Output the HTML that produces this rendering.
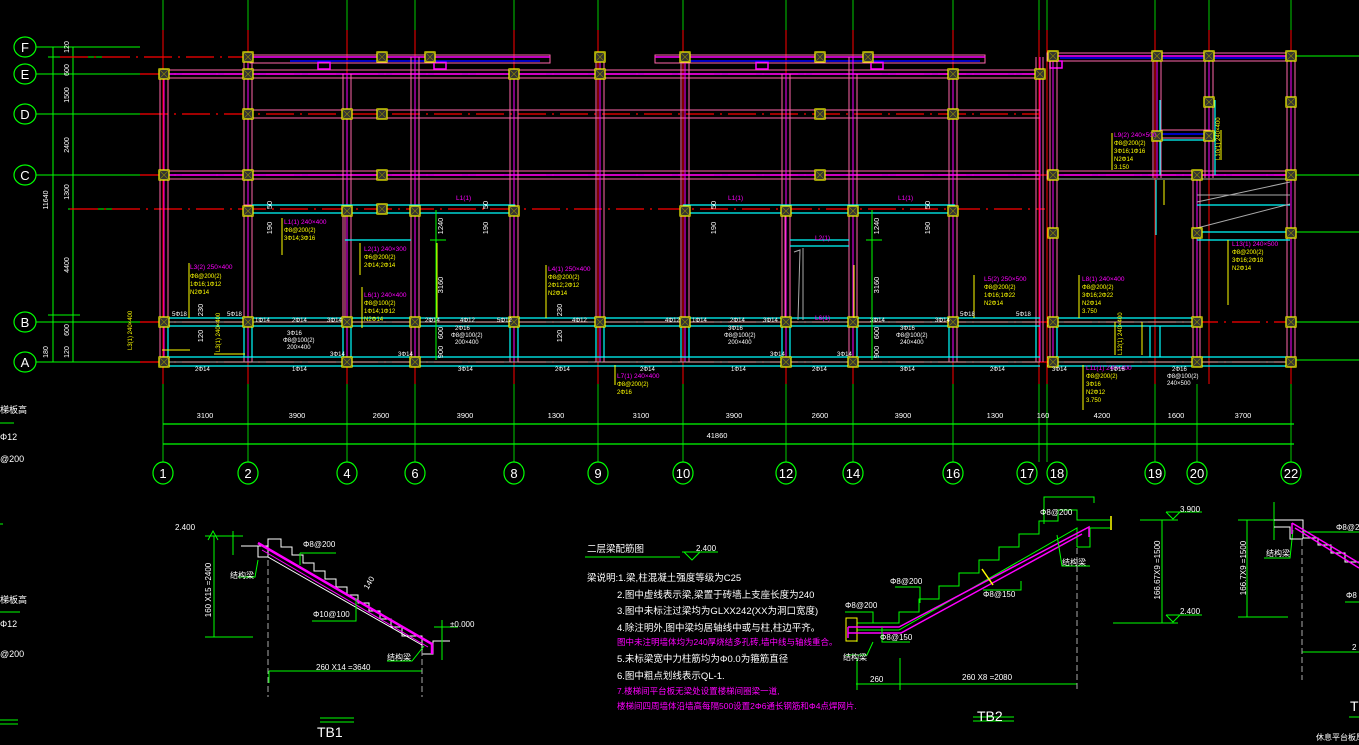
<!DOCTYPE html>
<html><head><meta charset="utf-8"><style>
html,body{margin:0;padding:0;background:#000;width:1359px;height:745px;overflow:hidden}
svg{display:block}
text{font-family:"Liberation Sans","Noto Sans CJK SC",sans-serif}
.w{fill:#fff}.y{fill:#ff0}.m{fill:#f0f}.g{fill:#0f0}
</style></head><body>
<svg width="1359" height="745" viewBox="0 0 1359 745" xmlns="http://www.w3.org/2000/svg">
<defs>
<g id="col"><rect x="-5" y="-5" width="10" height="10" fill="#333" stroke="#ff0" stroke-width="1.2"/><path d="M-5,-5L5,5M5,-5L-5,5" stroke="#880" stroke-width="0.6"/></g>
</defs>
<rect width="1359" height="745" fill="#000"/>

<g stroke-width="1">
<g stroke="#0c0">
<path d="M163,0V30M248,0V30M347,0V30M415,0V30M514,0V30M598,0V30M683,0V30M786,0V30M853,0V30M953,0V30M1039,0V30M1047,0V30M1155,0V30M1209,0V30M1291,0V30"/>
<path d="M163,384V462M248,384V462M347,384V462M415,384V462M514,384V462M598,384V462M683,384V462M786,384V462M853,384V462M953,384V462M1039,384V462M1047,384V462M1155,384V462M1197,384V462M1291,384V462"/>
</g>
<g stroke="#f00">
<path d="M163,30V384M248,30V384M347,30V384M415,30V384M514,30V384M598,30V384M683,30V384M786,30V384M853,30V384M953,30V384M1039,30V384M1047,30V384M1155,30V384M1209,30V384M1291,30V384"/>
</g>
</g>

<g stroke="#0f0" stroke-width="1">
<path d="M36,47H140M36,74H160M36,114H140M36,175H140M36,322H140M36,362H140M68,209H130M48,57H130"/>
<path d="M53,47V362M73,47V362M48,315H80"/>
<path d="M1294,56H1359M1294,175H1359M1294,232H1359M1294,322H1359M1294,360H1359"/>
</g>
<g stroke="#f00" stroke-width="1.2" stroke-dasharray="28,6,2,6">
<path d="M140,74H1040M140,114H1040M140,175H1294M70,209H1045M140,322H1294M140,362H1294M60,57H250"/>
</g>
<g fill="none" stroke="#0f0" stroke-width="1.2">
<ellipse cx="25" cy="47" rx="11" ry="10"/><ellipse cx="25" cy="74" rx="11" ry="10"/><ellipse cx="25" cy="114" rx="11" ry="10"/><ellipse cx="25" cy="175" rx="11" ry="10"/><ellipse cx="25" cy="322" rx="11" ry="10"/><ellipse cx="25" cy="362" rx="11" ry="10"/>
</g>
<g class="w" font-size="13" text-anchor="middle">
<text x="25" y="52">F</text><text x="25" y="79">E</text><text x="25" y="119">D</text><text x="25" y="180">C</text><text x="25" y="327">B</text><text x="25" y="367">A</text>
</g>
<g class="w" font-size="7" text-anchor="middle">
<text transform="translate(69,47) rotate(-90)">120</text>
<text transform="translate(69,70) rotate(-90)">600</text>
<text transform="translate(69,95) rotate(-90)">1500</text>
<text transform="translate(69,145) rotate(-90)">2400</text>
<text transform="translate(69,192) rotate(-90)">1300</text>
<text transform="translate(69,265) rotate(-90)">4400</text>
<text transform="translate(69,330) rotate(-90)">600</text>
<text transform="translate(69,352) rotate(-90)">120</text>
<text transform="translate(48,200) rotate(-90)">11640</text>
<text transform="translate(48,352) rotate(-90)">180</text>
</g>

<g fill="none" stroke-width="1">
<g stroke="#f6a">
<rect x="250" y="55" width="300" height="8"/><rect x="655" y="55" width="330" height="8"/>
<rect x="1047" y="53" width="247" height="8"/>
<rect x="160" y="70" width="880" height="8"/>
<rect x="244" y="110" width="796" height="8"/>
<rect x="160" y="171" width="880" height="8"/>
<rect x="1047" y="171" width="247" height="8"/>
<rect x="245" y="205" width="270" height="8"/><rect x="683" y="205" width="272" height="8"/>
<rect x="1160" y="130" width="50" height="8"/>
</g>
<g stroke="#f0f" stroke-width="1.5">
<path d="M250,57H550M655,57H985M1047,56H1294M160,74H1040M160,175H1040M1047,175H1294"/>
<rect x="318" y="62" width="12" height="7"/><rect x="434" y="62" width="12" height="7"/><rect x="756" y="62" width="12" height="7"/><rect x="871" y="62" width="12" height="7"/><rect x="1050" y="61" width="12" height="7"/>
</g>
<g stroke="#00f" stroke-width="1.5"><path d="M290,61H540M690,61H980M1060,58H1290M1160,134H1205"/></g>
</g>

<g fill="none" stroke="#f6a" stroke-width="1">
<path d="M160,74V362M168,74V362M244,57V362M252,57V362M343,74V362M351,74V362M411,57V362M419,57V362M510,74V362M518,74V362M596,57V362M604,57V362M681,57V362M689,57V362M782,74V362M790,74V362M849,57V362M857,74V362M949,74V362M957,74V362M1036,57V362M1043,57V362M1050,56V362M1057,56V362M1153,56V178M1161,56V178M1205,56V178M1213,56V178M1287,56V362M1295,56V362M1193,175V362M1200,175V362"/>
<path d="M345,209V322M351,209V235M411,209V322M785,209V322M849,209V322"/>
</g>
<g fill="none" stroke="#f0f" stroke-width="1">
<path d="M164,74V362M248,57V362M347,74V362M415,57V362M514,74V362M600,57V362M685,57V362M786,74V362M853,57V362M953,74V362M1040,57V362M1053,56V362M1157,56V178M1209,56V178M1291,56V362M1197,175V362"/>
</g>

<g fill="none" stroke="#0ff" stroke-width="1.2">
<path d="M160,318H1040M160,326H1040M160,357H1040M160,366H1040M1047,318H1197M1047,326H1197M1047,357H1290M1047,366H1290"/>
<path d="M168,326V357M244,326V357M252,326V357M343,326V357M351,326V357M510,326V357M518,326V357M596,326V357M604,326V357M681,326V357M689,326V357M782,326V357M790,326V357M857,326V357M949,326V357M1036,326V357M1057,326V357M1150,326V357M1160,326V357"/>
<path d="M252,205H515M683,205H955M252,213H515M683,213H955M345,240H411M790,240H849M790,246H849M1160,140H1205M1197,205H1290M1197,232H1290M1197,240H1290"/>
<path d="M1160,100V175M1215,100V175M1156,180V235"/>
</g>
<g stroke="#aaa" stroke-width="1" fill="none">
<path d="M160,322H1040M160,362H1040M1047,322H1197M1047,362H1290M1047,179H1294M1197,195H1290"/>
<path d="M794,252L800,250L798,320M803,248L803,320M1197,202L1290,182M1197,228L1290,204"/>
</g>

<g>
<use href="#col" x="164" y="74"/><use href="#col" x="248" y="57"/><use href="#col" x="248" y="74"/><use href="#col" x="248" y="114"/><use href="#col" x="248" y="175"/><use href="#col" x="248" y="211"/><use href="#col" x="248" y="322"/>
<use href="#col" x="164" y="175"/><use href="#col" x="164" y="322"/><use href="#col" x="164" y="362"/>
<use href="#col" x="347" y="114"/><use href="#col" x="347" y="211"/><use href="#col" x="347" y="322"/><use href="#col" x="347" y="362"/>
<use href="#col" x="382" y="57"/><use href="#col" x="382" y="114"/><use href="#col" x="382" y="175"/><use href="#col" x="382" y="209"/>
<use href="#col" x="415" y="211"/><use href="#col" x="415" y="322"/><use href="#col" x="415" y="362"/><use href="#col" x="430" y="57"/>
<use href="#col" x="514" y="74"/><use href="#col" x="514" y="211"/><use href="#col" x="514" y="322"/>
<use href="#col" x="600" y="57"/><use href="#col" x="600" y="74"/><use href="#col" x="600" y="322"/>
<use href="#col" x="685" y="57"/><use href="#col" x="685" y="211"/><use href="#col" x="685" y="322"/>
<use href="#col" x="786" y="211"/><use href="#col" x="786" y="322"/><use href="#col" x="786" y="362"/>
<use href="#col" x="820" y="57"/><use href="#col" x="820" y="114"/><use href="#col" x="820" y="175"/>
<use href="#col" x="853" y="211"/><use href="#col" x="853" y="322"/><use href="#col" x="853" y="362"/><use href="#col" x="868" y="57"/>
<use href="#col" x="953" y="74"/><use href="#col" x="953" y="114"/><use href="#col" x="953" y="211"/><use href="#col" x="953" y="322"/>
<use href="#col" x="1040" y="74"/><use href="#col" x="1053" y="56"/><use href="#col" x="1053" y="175"/><use href="#col" x="1053" y="233"/><use href="#col" x="1053" y="322"/><use href="#col" x="1053" y="362"/>
<use href="#col" x="1157" y="56"/><use href="#col" x="1157" y="136"/><use href="#col" x="1209" y="56"/><use href="#col" x="1209" y="102"/><use href="#col" x="1209" y="136"/>
<use href="#col" x="1197" y="175"/><use href="#col" x="1197" y="233"/><use href="#col" x="1197" y="322"/><use href="#col" x="1197" y="362"/>
<use href="#col" x="1291" y="56"/><use href="#col" x="1291" y="102"/><use href="#col" x="1291" y="175"/><use href="#col" x="1291" y="233"/><use href="#col" x="1291" y="322"/><use href="#col" x="1291" y="362"/>
</g>

<g stroke="#ff0" stroke-width="1" fill="none">
<path d="M189,263V318M282,218V255M360,243V275M362,287V328M437,243V318M546,265V318M615,365V385M854,265V318M974,275V318M1079,275V318M1112,133V170M1164,180V205M1228,240V305M1221,130V160M1083,365V410M1115,322V355M1142,322V355"/>
<path d="M162,350H190M214,354H245"/>
</g>
<g class="m" font-size="6.5">
<text x="190" y="269">L3(2) 250×400</text>
<text x="284" y="224">L1(1) 240×400</text>
<text x="364" y="251">L2(1) 240×300</text>
<text x="364" y="297">L6(1) 240×400</text>
<text x="548" y="271">L4(1) 250×400</text>
<text x="456" y="200">L1(1)</text><text x="728" y="200">L1(1)</text><text x="898" y="200">L1(1)</text>
<text x="617" y="378">L7(1) 240×400</text>
<text x="815" y="240">L2(1)</text>
<text x="815" y="320">L6(1)</text>
<text x="984" y="281">L5(2) 250×500</text>
<text x="1082" y="281">L8(1) 240×400</text>
<text x="1114" y="137">L9(2) 240×500</text>
<text x="1232" y="246">L13(1) 240×500</text>
<text x="1086" y="370">L11(1) 240×400</text>
</g>
<g class="y" font-size="6">
<text x="190" y="278">Φ8@200(2)</text><text x="190" y="286">1Φ16;1Φ12</text><text x="190" y="294">N2Φ14</text>
<text x="284" y="232">Φ8@200(2)</text><text x="284" y="240">3Φ14;3Φ16</text>
<text x="364" y="259">Φ6@200(2)</text><text x="364" y="267">2Φ14;2Φ14</text>
<text x="364" y="305">Φ8@100(2)</text><text x="364" y="313">1Φ14;1Φ12</text><text x="364" y="321">N2Φ14</text>
<text x="548" y="279">Φ8@200(2)</text><text x="548" y="287">2Φ12;2Φ12</text><text x="548" y="295">N2Φ14</text>
<text x="984" y="289">Φ8@200(2)</text><text x="984" y="297">1Φ16;1Φ22</text><text x="984" y="305">N2Φ14</text>
<text x="1082" y="289">Φ8@200(2)</text><text x="1082" y="297">3Φ16;2Φ22</text><text x="1082" y="305">N2Φ14</text><text x="1082" y="313">3.750</text>
<text x="1114" y="145">Φ8@200(2)</text><text x="1114" y="153">3Φ16;1Φ16</text><text x="1114" y="161">N2Φ14</text><text x="1114" y="169">3.150</text>
<text x="1232" y="254">Φ8@200(2)</text><text x="1232" y="262">3Φ16;2Φ18</text><text x="1232" y="270">N2Φ14</text>
<text x="617" y="386">Φ8@200(2)</text><text x="617" y="394">2Φ16</text>
<text x="1086" y="378">Φ8@200(2)</text><text x="1086" y="386">3Φ16</text><text x="1086" y="394">N2Φ12</text><text x="1086" y="402">3.750</text>
<text transform="translate(1220,160) rotate(-90)">L10(1) 240×400</text>
<text transform="translate(1122,355) rotate(-90)">L12(1) 240×400</text>
<text transform="translate(132,350) rotate(-90)">L3(1) 240×400</text>
<text transform="translate(220,352) rotate(-90)">L3(1) 240×400</text>
</g>
<g class="w" font-size="6">
<text x="172" y="316">5Φ18</text><text x="227" y="316">5Φ18</text><text x="255" y="322">1Φ14</text><text x="292" y="322">2Φ14</text><text x="327" y="322">3Φ14</text>
<text x="425" y="322">2Φ14</text><text x="460" y="322">4Φ12</text><text x="497" y="322">5Φ12</text><text x="572" y="322">4Φ12</text><text x="665" y="322">4Φ12</text>
<text x="692" y="322">1Φ14</text><text x="730" y="322">2Φ14</text><text x="763" y="322">3Φ14</text><text x="870" y="322">3Φ14</text><text x="935" y="322">3Φ14</text><text x="960" y="316">5Φ18</text><text x="1016" y="316">5Φ18</text>
<text x="287" y="335">3Φ16</text><text x="283" y="342">Φ8@100(2)</text><text x="287" y="349">200×400</text>
<text x="455" y="330">2Φ16</text><text x="451" y="337">Φ8@100(2)</text><text x="455" y="344">200×400</text>
<text x="728" y="330">3Φ16</text><text x="724" y="337">Φ8@100(2)</text><text x="728" y="344">200×400</text>
<text x="900" y="330">3Φ16</text><text x="896" y="337">Φ8@100(2)</text><text x="900" y="344">240×400</text>
<text x="330" y="356">3Φ14</text><text x="398" y="356">3Φ14</text><text x="770" y="356">3Φ14</text><text x="837" y="356">3Φ14</text>
<text x="195" y="371">2Φ14</text><text x="292" y="371">1Φ14</text><text x="458" y="371">3Φ14</text><text x="555" y="371">2Φ14</text><text x="640" y="371">2Φ14</text><text x="731" y="371">1Φ14</text><text x="812" y="371">2Φ14</text><text x="900" y="371">3Φ14</text><text x="990" y="371">2Φ14</text><text x="1052" y="371">3Φ14</text><text x="1110" y="371">1Φ16</text><text x="1172" y="371">2Φ16</text><text x="1167" y="378">Φ8@100(2)</text><text x="1167" y="385">240×500</text>
</g>
<g class="w" font-size="7.5" text-anchor="middle">
<text transform="translate(272,205) rotate(-90)">50</text><text transform="translate(272,228) rotate(-90)">190</text>
<text transform="translate(488,205) rotate(-90)">50</text><text transform="translate(488,228) rotate(-90)">190</text>
<text transform="translate(716,205) rotate(-90)">50</text><text transform="translate(716,228) rotate(-90)">190</text>
<text transform="translate(930,205) rotate(-90)">50</text><text transform="translate(930,228) rotate(-90)">190</text>
<text transform="translate(203,310) rotate(-90)">230</text><text transform="translate(203,336) rotate(-90)">120</text>
<text transform="translate(562,310) rotate(-90)">230</text><text transform="translate(562,336) rotate(-90)">120</text>
<text transform="translate(443,226) rotate(-90)">1240</text><text transform="translate(443,285) rotate(-90)">3160</text>
<text transform="translate(443,333) rotate(-90)">600</text><text transform="translate(443,352) rotate(-90)">900</text>
<text transform="translate(879,226) rotate(-90)">1240</text><text transform="translate(879,285) rotate(-90)">3160</text>
<text transform="translate(879,333) rotate(-90)">600</text><text transform="translate(879,352) rotate(-90)">900</text>
</g>
<g stroke="#0f0" stroke-width="1"><path d="M436,210V360M872,210V360M430,240H446M866,240H882"/></g>

<g stroke="#0f0" stroke-width="1.2"><path d="M163,424H1294M163,444H1294"/></g>
<g class="w" font-size="7.5" text-anchor="middle">
<text x="205" y="418">3100</text><text x="297" y="418">3900</text><text x="381" y="418">2600</text><text x="465" y="418">3900</text><text x="556" y="418">1300</text><text x="641" y="418">3100</text><text x="734" y="418">3900</text><text x="820" y="418">2600</text><text x="903" y="418">3900</text><text x="995" y="418">1300</text><text x="1043" y="418">160</text><text x="1102" y="418">4200</text><text x="1176" y="418">1600</text><text x="1243" y="418">3700</text>
<text x="717" y="438">41860</text>
</g>
<g fill="none" stroke="#0f0" stroke-width="1.2">
<ellipse cx="163" cy="473" rx="10" ry="11"/><ellipse cx="248" cy="473" rx="10" ry="11"/><ellipse cx="347" cy="473" rx="10" ry="11"/><ellipse cx="415" cy="473" rx="10" ry="11"/><ellipse cx="514" cy="473" rx="10" ry="11"/><ellipse cx="598" cy="473" rx="10" ry="11"/><ellipse cx="683" cy="473" rx="10" ry="11"/><ellipse cx="786" cy="473" rx="10" ry="11"/><ellipse cx="853" cy="473" rx="10" ry="11"/><ellipse cx="953" cy="473" rx="10" ry="11"/><ellipse cx="1027" cy="473" rx="10" ry="11"/><ellipse cx="1057" cy="473" rx="10" ry="11"/><ellipse cx="1155" cy="473" rx="10" ry="11"/><ellipse cx="1197" cy="473" rx="10" ry="11"/><ellipse cx="1291" cy="473" rx="10" ry="11"/>
</g>
<g class="w" font-size="13" text-anchor="middle">
<text x="163" y="478">1</text><text x="248" y="478">2</text><text x="347" y="478">4</text><text x="415" y="478">6</text><text x="514" y="478">8</text><text x="598" y="478">9</text><text x="683" y="478">10</text><text x="786" y="478">12</text><text x="853" y="478">14</text><text x="953" y="478">16</text><text x="1027" y="478">17</text><text x="1057" y="478">18</text><text x="1155" y="478">19</text><text x="1197" y="478">20</text><text x="1291" y="478">22</text>
</g>

<g class="w" font-size="9"><text x="0" y="413">梯板高</text><text x="0" y="440">Φ12</text><text x="0" y="462">@200</text><text x="0" y="603">梯板高</text><text x="0" y="627">Φ12</text><text x="0" y="657">@200</text></g>
<g stroke="#0f0"><path d="M0,423H14M0,612H20M0,720H18M0,724H18M0,524H3"/></g>

<g fill="none" stroke-width="1">
<polyline stroke="#fff" points="241,546 268,546 268,539 268,539 281,539 281,547 292,547 292,555 303,555 303,563 314,563 314,571 325,571 325,579 336,579 336,587 347,587 347,595 358,595 358,603 369,603 369,611 380,611 380,619 391,619 391,627 402,627 402,636 422,636 422,654"/>
<polyline stroke="#fff" points="268,539 268,557 258,557 258,546"/>
<path stroke="#fff" d="M268,557L422,645M422,654H433V641H450"/>
<path stroke="#f0f" stroke-width="2.5" d="M258,543L432,644V654"/>
<path stroke="#f0f" stroke-width="1" d="M262,550L428,647"/>
<path stroke="#0f0" d="M205,536H243M214,536V637M205,637H253M233,531V555M269,671V683M269,671H422M300,553H336M300,553V565M312,621H356V598M238,577H255L258,560M387,661H412L424,646M434,627H458M442,620V660M320,718H354M320,722H354M208,540L213,531L218,540"/>
<path stroke="#aaa" stroke-dasharray="6,3" d="M268,560V697M422,650V697"/>
</g>
<g class="w" font-size="8"><text x="175" y="530">2.400</text><text x="303" y="547">Φ8@200</text><text x="313" y="617">Φ10@100</text><text x="230" y="578">结构梁</text><text x="387" y="660">结构梁</text><text x="450" y="627">±0.000</text><text x="316" y="670">260 X14 =3640</text>
<text transform="translate(211,590) rotate(-90)" text-anchor="middle">160 X15 =2400</text><text transform="translate(368,590) rotate(-60)">140</text>
<text x="317" y="737" font-size="14">TB1</text></g>

<g stroke="#0f0"><path d="M585,557H680M682,552H718M684,552L692,560L700,552"/></g>
<g font-size="9.5">
<text class="w" x="587" y="552">二层梁配筋图</text>
<text class="w" x="696" y="551" font-size="8">2.400</text>
<text class="w" x="587" y="581">梁说明:1.梁,柱混凝土强度等级为C25</text>
<text class="w" x="617" y="598">2.图中虚线表示梁,梁置于砖墙上支座长度为240</text>
<text class="w" x="617" y="614">3.图中未标注过梁均为GLXX242(XX为洞口宽度)</text>
<text class="w" x="617" y="631">4.除注明外,图中梁均居轴线中或与柱,柱边平齐。</text>
<text class="m" x="617" y="645" font-size="8.5">图中未注明墙体均为240厚烧结多孔砖,墙中线与轴线重合。</text>
<text class="w" x="617" y="662">5.未标梁宽中力柱筋均为Φ0.0为箍筋直径</text>
<text class="w" x="617" y="679">6.图中粗点划线表示QL-1.</text>
<text class="m" x="617" y="694" font-size="8.5">7.楼梯间平台板无梁处设置楼梯间圈梁一道,</text>
<text class="m" x="617" y="709" font-size="8.5">楼梯间四周墙体沿墙高每隔500设置2Φ6通长钢筋和Φ4点焊网片.</text>
</g>

<g fill="none" stroke-width="1">
<polyline stroke="#0f0" points="857,623 899,623 899,612 919,612 919,599 939,599 939,586 959,586 959,573 979,573 979,560 999,560 999,547 1019,547 1019,534 1039,534 1039,521 1058,521 1058,510 1077,510 1077,520 1110,520"/>
<path stroke="#0f0" d="M857,630H899L1077,528V547M1077,547H1090V528H1110M857,630V642M846,655H867L873,642"/>
<rect x="846" y="618" width="11" height="23" stroke="#ff0"/>
<path stroke="#f0f" stroke-width="1.5" d="M848,627H899L1089,527V537M848,633H901L1082,534M848,627V638"/>
<path stroke="#0f0" d="M845,612H873V623M895,587H920V603M882,627V642H910M983,590H1021V581M1044,524V497H1094V503M1057,535L1062,566H1090M856,684H1077M857,658V690M900,658V690"/>
<path stroke="#ff0" stroke-width="1.5" d="M982,569L993,585M1111,516V530"/>
<path stroke="#aaa" stroke-dasharray="6,3" d="M1077,548V690"/>
<path stroke="#0f0" d="M973,717H1014M973,721H1014"/>
</g>
<g class="w" font-size="8"><text x="845" y="608">Φ8@200</text><text x="890" y="584">Φ8@200</text><text x="1040" y="515">Φ8@200</text><text x="983" y="597">Φ8@150</text><text x="880" y="640">Φ8@150</text><text x="843" y="660">结构梁</text><text x="1062" y="565">结构梁</text><text x="870" y="682">260</text><text x="962" y="680">260 X8 =2080</text>
<text x="977" y="721" font-size="14">TB2</text></g>

<g fill="none" stroke="#0f0" stroke-width="1">
<path d="M1140,520H1178M1166,512H1202M1166,512L1173,519L1180,512M1162,520V623M1113,623H1178M1166,615H1202M1166,615L1173,622L1180,615"/>
<path d="M1238,520H1285M1247,520V617M1238,617H1288M1274,502V540M1264,558H1290L1293,530M1303,532H1359M1345,602H1359M1302,652H1359M1349,717H1359"/>
</g>
<path fill="none" stroke="#fff" d="M1274,520H1303V538H1318V545H1331V553H1345V562H1359M1274,527H1290V539H1303"/>
<path fill="none" stroke="#f0f" stroke-width="1.5" d="M1292,523L1359,563M1292,523V534M1295,528L1359,568"/>
<path stroke="#aaa" stroke-dasharray="6,3" d="M1302,540V680"/>
<g class="w" font-size="8"><text x="1180" y="512">3.900</text><text x="1180" y="614">2.400</text>
<text transform="translate(1160,570) rotate(-90)" text-anchor="middle">166.67X9 =1500</text>
<text transform="translate(1246,568) rotate(-90)" text-anchor="middle">166.7X9 =1500</text>
<text x="1266" y="556">结构梁</text><text x="1336" y="530">Φ8@2</text><text x="1346" y="598">Φ8</text><text x="1352" y="650">2</text><text x="1350" y="711" font-size="14">T</text><text x="1316" y="740">休息平台板厚10</text></g>
</svg>
</body></html>
